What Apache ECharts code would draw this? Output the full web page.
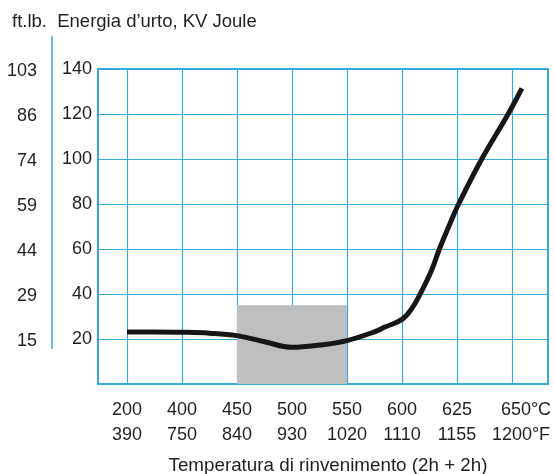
<!DOCTYPE html>
<html>
<head>
<meta charset="utf-8">
<script src="https://cdn.jsdelivr.net/npm/echarts@6/dist/echarts.min.js"></script>
<style>
  html, body { margin: 0; padding: 0; background: #fff; }
  #chart { width: 554px; height: 474px; }
</style>
</head>
<body>
<div id="chart"></div>
<script>
// Tempering temperatures shown under each vertical grid line
const tempC = ['200', '400', '450', '500', '550', '600', '625', '650°C'];
const tempF = ['390', '750', '840', '930', '1020', '1110', '1155', '1200°F'];

// Impact energy ticks (Joule) and their ft.lb equivalents
const jouleTicks = [20, 40, 60, 80, 100, 120, 140];
const ftlbTicks = ['15', '29', '44', '59', '74', '86', '103'];

// Impact energy curve: position along the temperature scale (grid-line index) and KV Joule
const curvePos = [0, 0.5, 1, 1.5, 2, 2.5, 3, 3.5, 4, 4.5, 4.69, 5, 5.18, 5.33, 5.54, 5.68, 5.9, 6.03, 6.45, 6.93, 7.18];
const curveJ   = [23.1, 23.1, 23.0, 22.6, 21.5, 18.8, 16.3, 17.3, 19.3, 23.2, 25.3, 28.7, 33.6, 40, 50.7, 60, 72.9, 80, 100, 120, 131.4];

// Shaded band: 450–550 °C, up to about 35 J
const bandPos = [2, 4];
const bandTop = 35;

const BLUE = '#34ABDE';
const TEXT = '#231F20';
const FONT = 'Liberation Sans, Arial, Helvetica, sans-serif';
const FS = 18;

// The frame extends a little beyond the first and last temperature lines;
// the frame axis uses the same units (one unit per temperature step).
const frameMin = -29 / 55;
const frameMax = 7 + 36 / 55;
const lastIdx = tempC.length - 1;

const chart = echarts.init(document.getElementById('chart'), null, { renderer: 'canvas' });

const curveData = curvePos.map((p, i) => [p, curveJ[i]]);

chart.setOption({
  animation: false,
  backgroundColor: '#fff',
  textStyle: { fontFamily: FONT, color: TEXT },
  title: {
    text: 'ft.lb.  Energia d’urto, KV Joule',
    left: 12,
    top: 12,
    padding: 0,
    textStyle: { fontFamily: FONT, fontSize: 18.5, fontWeight: 'normal', color: TEXT }
  },
  graphic: [{
    type: 'line',
    shape: { x1: 52, y1: 36, x2: 52, y2: 349 },
    style: { stroke: BLUE, lineWidth: 1.5 }
  }],
  grid: [
    { left: 98, right: 6, top: 69, bottom: 90, outerBoundsMode: 'none', containLabel: false,
      show: true, borderColor: BLUE, borderWidth: 2, backgroundColor: 'transparent' },
    { left: 127, right: 42, top: 69, bottom: 90, outerBoundsMode: 'none', containLabel: false }
  ],
  xAxis: [
    {
      // frame axis: carries the curve, the band, the axis title and the end label with its units
      gridIndex: 0, type: 'value', min: frameMin, max: frameMax, z: 1,
      axisLine: { show: false }, axisTick: { show: false }, splitLine: { show: false },
      axisLabel: {
        show: true,
        customValues: [lastIdx],
        margin: 14,
        showMinLabel: false, showMaxLabel: false,
        fontFamily: FONT, fontSize: FS, color: TEXT, lineHeight: 25,
        formatter: () => '{a|' + tempC[lastIdx] + '}\n{b|' + tempF[lastIdx] + '}',
        rich: {
          a: { fontFamily: FONT, fontSize: FS, color: TEXT, lineHeight: 25, padding: [0, 0, 0, 28] },
          b: { fontFamily: FONT, fontSize: FS, color: TEXT, lineHeight: 25, padding: [0, 0, 0, 18] }
        }
      },
      name: 'Temperatura di rinvenimento (2h + 2h)',
      nameLocation: 'middle', nameGap: 72,
      nameTextStyle: { fontFamily: FONT, fontSize: 18.8, color: TEXT, padding: [0, 0, 0, 10] }
    },
    {
      // temperature lines and their labels
      gridIndex: 1, type: 'value', min: 0, max: lastIdx, interval: 1, z: 1,
      axisLine: { show: false }, axisTick: { show: false },
      splitLine: { show: true, lineStyle: { color: BLUE, width: 1.2 } },
      axisLabel: {
        margin: 14,
        showMinLabel: true, showMaxLabel: false,
        fontFamily: FONT, fontSize: FS, color: TEXT, lineHeight: 25,
        formatter: (v) => {
          const i = Math.round(v);
          if (i >= lastIdx) return '';
          return tempC[i] + '\n' + tempF[i];
        }
      }
    }
  ],
  yAxis: [
    {
      gridIndex: 0, type: 'value', min: 0, max: 140, interval: 20, z: 1,
      axisLine: { show: false }, axisTick: { show: false },
      splitLine: { show: true, lineStyle: { color: BLUE, width: 1.2 } },
      axisLabel: {
        margin: 6, fontFamily: FONT, fontSize: FS, color: TEXT,
        formatter: (v) => (jouleTicks.indexOf(v) >= 0 ? String(v) : '')
      }
    },
    {
      gridIndex: 0, type: 'value', min: 0, max: 140, interval: 20, position: 'left', offset: 55,
      axisLine: { show: false }, axisTick: { show: false }, splitLine: { show: false },
      axisLabel: {
        margin: 6, fontFamily: FONT, fontSize: FS, color: TEXT,
        formatter: (v) => {
          const k = jouleTicks.indexOf(v);
          return k >= 0 ? '{p|' + ftlbTicks[k] + '}' : '';
        },
        rich: {
          p: { fontFamily: FONT, fontSize: FS, color: TEXT, padding: [5, 0, 0, 0] }
        }
      }
    },
    { gridIndex: 1, type: 'value', min: 0, max: 140, show: false }
  ],
  series: [
    {
      name: 'band',
      type: 'line',
      xAxisIndex: 0, yAxisIndex: 0,
      data: [],
      z: 0.5,
      silent: true,
      markArea: {
        silent: true,
        itemStyle: { color: '#BEBFC0', opacity: 1 },
        data: [[{ xAxis: bandPos[0], yAxis: 0 }, { xAxis: bandPos[1], yAxis: bandTop }]]
      }
    },
    {
      name: 'KV',
      type: 'line',
      xAxisIndex: 0, yAxisIndex: 0,
      data: curveData,
      smooth: 0.4,
      showSymbol: false,
      z: 3,
      lineStyle: { color: '#161616', width: 5, cap: 'butt' }
    }
  ]
});
</script>
</body>
</html>
